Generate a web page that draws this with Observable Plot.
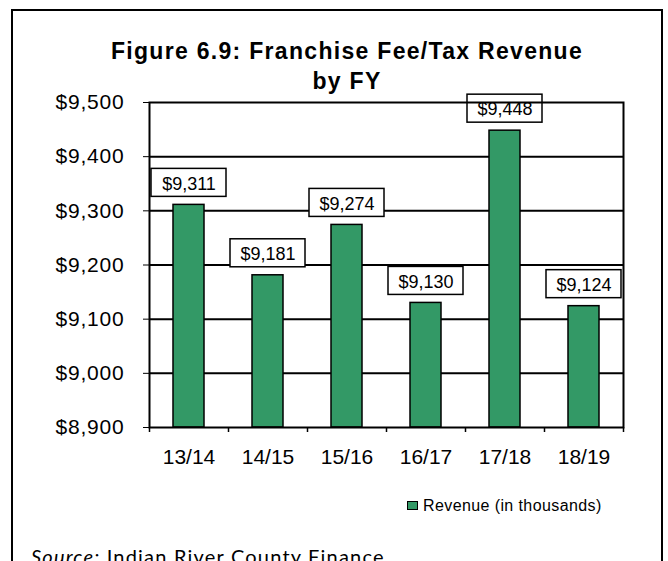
<!DOCTYPE html>
<html>
<head>
<meta charset="utf-8">
<script src="https://cdn.jsdelivr.net/npm/d3@7"></script>
<script src="https://cdn.jsdelivr.net/npm/@observablehq/plot@0.6"></script>
<style>
  html, body { margin: 0; padding: 0; background: #fff; }
  #wrap { position: relative; width: 668px; height: 561px; overflow: hidden; background: #fff; }
  #border { position: absolute; left: 11px; top: 9px; width: 652px; height: 620px; box-sizing: border-box; border: 2px solid #000; }
  #title { position: absolute; left: 0; width: 694px; top: 36px; text-align: center; font-family: "Liberation Sans", Arial, sans-serif; font-weight: bold; font-size: 23px; line-height: 30px; letter-spacing: 1.3px; color: #000; }
  #chart { position: absolute; left: 0; top: 0; }
  #legend { position: absolute; left: 407px; top: 498px; font-family: "Liberation Sans", Arial, sans-serif; font-size: 16px; line-height: 16px; letter-spacing: 0.4px; color: #000; white-space: nowrap; }
  #legend .sw { display: inline-block; width: 9px; height: 7px; background: #339966; border: 1px solid #000; margin-right: 5px; vertical-align: 1px; }
  #caption { position: absolute; left: 31px; top: 546px; font-family: Lato, "Open Sans", sans-serif; font-size: 20px; line-height: 20px; letter-spacing: 1.2px; color: #000; white-space: nowrap; }
  [aria-label^="y-axis"] text { letter-spacing: 0.8px; }
</style>
</head>
<body>
<div id="wrap">
  <div id="border"></div>
  <div id="chart"></div>
  <div id="title">Figure 6.9: Franchise Fee/Tax Revenue<br>by FY</div>
  <div id="legend"><span class="sw"></span>Revenue (in thousands)</div>
  <div id="caption"><i>Source:</i> Indian River County Finance</div>
</div>
<script>
const years = ["13/14", "14/15", "15/16", "16/17", "17/18", "18/19"];
const revenue = [9311, 9181, 9274, 9130, 9448, 9124];
const yDomain = [8900, 9500];
const gridValues = [9000, 9100, 9200, 9300, 9400];
const seriesName = "Revenue (in thousands)";

const data = years.map((fy, i) => ({fy, value: revenue[i]}));
const money = d => "$" + d3.format(",")(d);
const base = yDomain[0];

const chart = Plot.plot({
  width: 668,
  height: 561,
  marginLeft: 149,
  marginRight: 45,
  marginTop: 102,
  marginBottom: 134,
  style: {fontFamily: "'Liberation Sans', Arial, sans-serif", fontSize: "21px", color: "#000", background: "transparent"},
  x: {type: "band", domain: years, paddingInner: 0.608, paddingOuter: 0.304, tickSize: 0, tickPadding: 22, label: null},
  y: {domain: yDomain, ticks: 6, tickFormat: money, tickSize: 6, tickPadding: 19, label: null},
  marks: [
    Plot.ruleY(gridValues, {y: d => d, stroke: "#000", strokeWidth: 2}),
    Plot.barY(data, {x: "fy", y1: base, y2: "value", fill: "#339966", stroke: "#000", strokeWidth: 1.5}),
    Plot.ruleX(years, {x: d => d, dx: -39.5, y1: base, y2: base, insetBottom: -5, stroke: "#000", strokeWidth: 1.5}),
    Plot.ruleX(years.slice(-1), {x: d => d, dx: 39.5, y1: base, y2: base, insetBottom: -5, stroke: "#000", strokeWidth: 1.5}),
    Plot.barY(data, {x: "fy", y1: "value", y2: "value", insetTop: -36, insetBottom: 8, insetLeft: -22, insetRight: -22, fill: "#fff", stroke: "#000", strokeWidth: 1.5}),
    Plot.text(data, {x: "fy", y: "value", text: d => money(d.value), dy: -21, fontSize: 18, fill: "#000"}),
    Plot.frame({stroke: "#000", strokeWidth: 2})
  ]
});
document.getElementById("chart").appendChild(chart);
</script>
</body>
</html>
